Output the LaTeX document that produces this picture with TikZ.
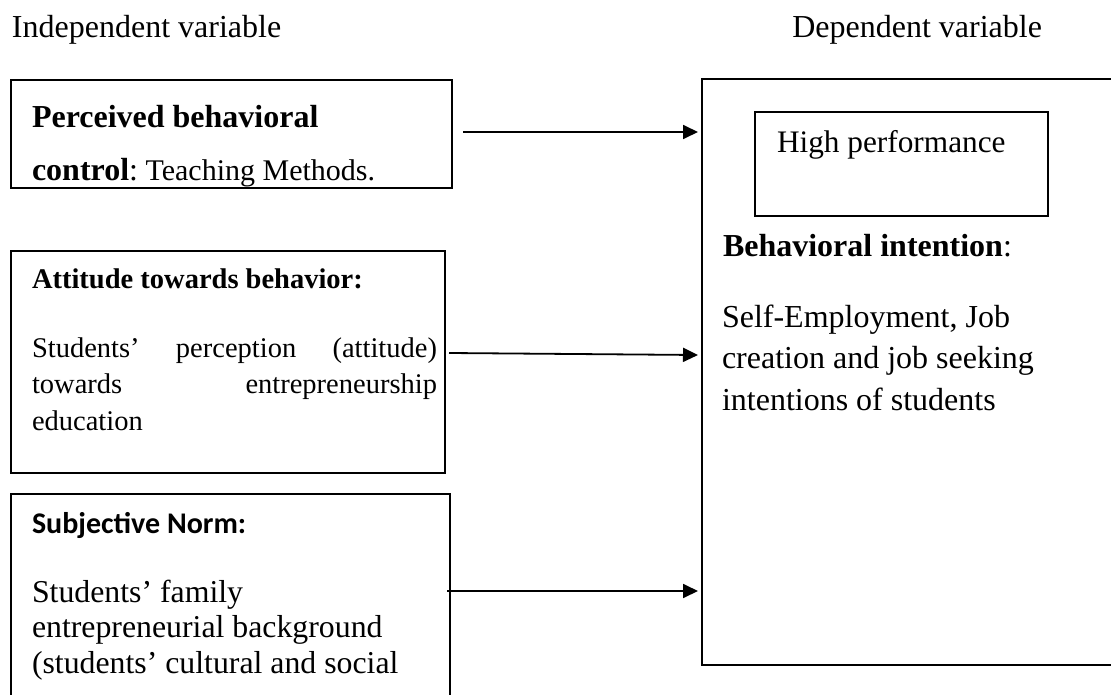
\documentclass[tikz,border=0pt]{standalone}
\usepackage{fontspec}
\setmainfont{Liberation Serif}
\newfontfamily\calfont{Carlito}
\usetikzlibrary{arrows.meta}
\tikzset{
  box/.style={draw, line width=1.4pt, inner sep=0pt, outer sep=0pt, anchor=north west},
  txt/.style={inner sep=0pt, outer sep=0pt, anchor=base west, font=\fontsize{32}{38}\selectfont},
  smalltxt/.style={txt, font=\fontsize{28.5}{34}\selectfont},
  midtxt/.style={txt, font=\fontsize{31.8}{36}\selectfont},
  caltxt/.style={txt, font=\calfont\bfseries\fontsize{30}{34}\selectfont},
  arr/.style={line width=1.8pt, -{Triangle[length=15pt,width=14pt]}},
}
\begin{document}
\begin{tikzpicture}[x=1pt,y=-1pt]
\useasboundingbox (0,0) rectangle (1111,695);
% headers
\node[txt] (hind) at (12,38) {Independent variable};
\node[txt, anchor=base east] (hdep) at (1042,38) {Dependent variable};
% box 1
\node[box, minimum width=441pt, minimum height=108pt] (b1) at (11,80) {};
\node[txt] (b1a) at (32,128) {\textbf{Perceived behavioral}};
\node[txt] (b1b) at (32,181) {\textbf{control}:\fontsize{30}{36}\selectfont\ Teaching Methods.};
% box 2
\node[box, minimum width=434pt, minimum height=222pt] (b2) at (11,251) {};
\node[smalltxt] (b2h) at (32,288) {\textbf{Attitude towards behavior:}};
\node[smalltxt] (b2a) at (32,357) {\hbox to 405pt{Students’\hfill perception\hfill (attitude)}};
\node[smalltxt] (b2b) at (32,393) {\hbox to 405pt{towards\hfill entrepreneurship}};
\node[smalltxt] (b2c) at (32,430) {education};
% box 3
\node[box, minimum width=439pt, minimum height=230pt] (b3) at (11,494) {};
\node[caltxt] (b3h) at (32,533) {Subjective Norm:};
\node[midtxt] (b3a) at (32,602) {Students’ family};
\node[midtxt] (b3b) at (32,637) {entrepreneurial background};
\node[midtxt] (b3c) at (32,673) {(students’ cultural and social};
% right box
\node[box, minimum width=420pt, minimum height=586pt] (r) at (702,79) {};
\node[box, minimum width=293pt, minimum height=104pt] (hp) at (755,112) {};
\node[txt, font=\fontsize{31.3}{36}\selectfont] (hpt) at (777,153) {High performance};
\node[txt] (bi) at (723,257) {\textbf{Behavioral intention}:};
\node[txt] (bi1) at (722,327) {Self-Employment, Job};
\node[txt] (bi2) at (722,368) {creation and job seeking};
\node[txt] (bi3) at (722,410) {intentions of students};
% arrows
\coordinate (a1s) at (463,132);
\coordinate (a1e) at (698,132);
\coordinate (a2s) at (449,353);
\coordinate (a2e) at (698,355);
\coordinate (a3s) at (447,591);
\coordinate (a3e) at (698,591);
\draw[arr] (a1s) -- (a1e);
\draw[arr] (a2s) -- (a2e);
\draw[arr] (a3s) -- (a3e);
\end{tikzpicture}
\end{document}
